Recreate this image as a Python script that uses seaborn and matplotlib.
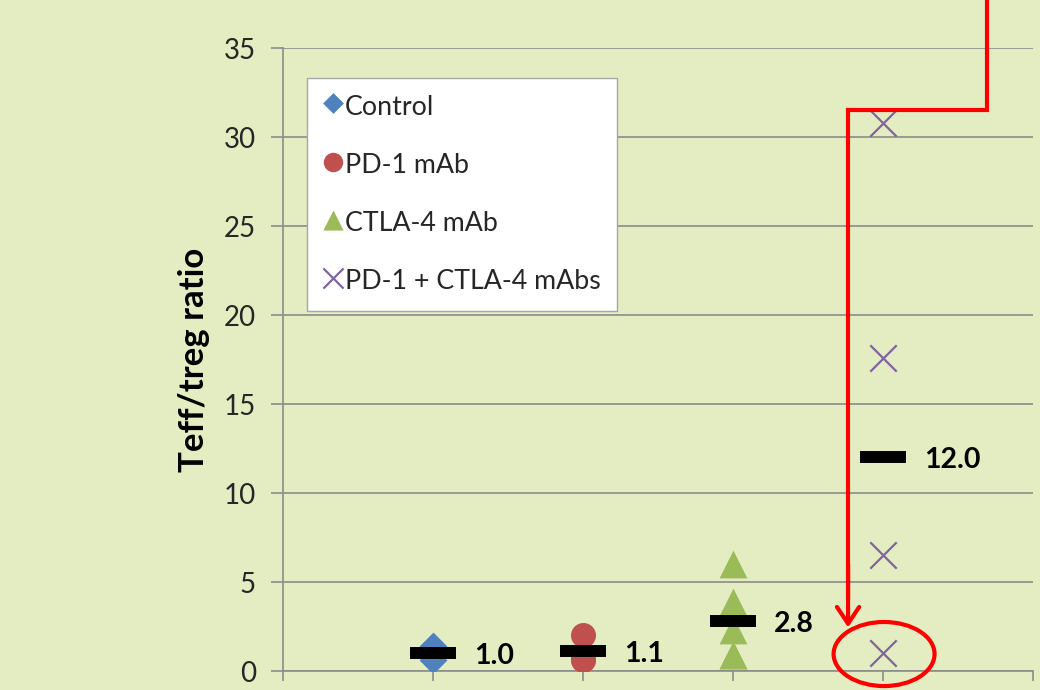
import numpy as np
import pandas as pd
import matplotlib
matplotlib.use("Agg")
import matplotlib.pyplot as plt
from matplotlib.patches import Ellipse
import seaborn as sns

# Treatment groups and individual Teff/Treg ratios per animal
groups = ["Control", "PD-1 mAb", "CTLA-4 mAb", "PD-1 + CTLA-4 mAbs"]
control = [1.4, 0.6]
pd1 = [2.0, 0.7, 0.6]
ctla4 = [6.0, 3.9, 2.3, 0.9, 0.9]
combo = [30.8, 17.6, 6.5, 1.0]
group_means = [1.0, 1.1, 2.8, 12.0]
yticks = [0, 5, 10, 15, 20, 25, 30, 35]

values = [control, pd1, ctla4, combo]
df = pd.DataFrame({
    "group": np.repeat(groups, [len(v) for v in values]),
    "ratio": np.concatenate(values),
})
pos_of = {g: i + 1 for i, g in enumerate(groups)}
df["pos"] = df["group"].map(pos_of)

sns.set_theme(style="white")
plt.rcParams["font.family"] = ["Lato", "DejaVu Sans"]

BG = "#E4EDC1"
GRID = "#8C8C8C"
fig = plt.figure(figsize=(10.4, 6.9), dpi=100, facecolor=BG)
ax = fig.add_axes([0.2721, 0.0275, 0.7212, 0.9029])
ax.set_facecolor(BG)

# marker, colour, scatter size (pt^2), legend size
styles = {
    "Control": ("D", "#4F81BD", 200, 112),
    "PD-1 mAb": ("o", "#C0504D", 324, 196),
    "CTLA-4 mAb": ("^", "#9BBB59", 400, 210),
    "PD-1 + CTLA-4 mAbs": ("x", "#8064A2", 361, 210),
}

for g in groups:
    sub = df[df["group"] == g]
    mk, col, s, _ = styles[g]
    lw = 1.6 if mk == "x" else 0
    sns.scatterplot(data=sub, x="pos", y="ratio", marker=mk, color=col,
                    s=s, linewidth=lw, label=g, ax=ax, zorder=3)

# group mean bars with value labels
positions = np.array([pos_of[g] for g in groups], dtype=float)
half = 0.155
ax.hlines(group_means, positions - half, positions + half, colors="black",
          linewidth=8.6, zorder=4)
for p, m in zip(positions, group_means):
    ax.annotate(f"{m:.1f}", xy=(p + half, m), xytext=(13, -2),
                textcoords="offset points", ha="left", va="center",
                fontsize=20.5, fontweight="bold", color="black")

ax.set_xlim(0, 5)
ax.set_ylim(0, 35)
ax.set_yticks(yticks)
ax.set_xticks([0, 1, 2, 3, 4, 5])
ax.set_xticklabels([])
ax.set_xlabel("")
ax.yaxis.grid(True, color=GRID, linewidth=1.2)
ax.xaxis.grid(False)
ax.set_axisbelow(True)
for side in ["top", "right"]:
    ax.spines[side].set_visible(False)
for side in ["left", "bottom"]:
    ax.spines[side].set_color(GRID)
    ax.spines[side].set_linewidth(1.2)
ax.tick_params(axis="y", direction="out", length=8.5, width=1.2, color=GRID,
               pad=11, labelsize=20, labelcolor="#262626", left=True)
ax.tick_params(axis="x", direction="out", length=7, width=1.2, color=GRID,
               bottom=True)

ax.set_ylabel("Teff/treg ratio", fontsize=25, fontweight="bold", color="black")
ax.yaxis.set_label_coords(-0.097, 0.5)

leg = ax.legend(loc="upper left", bbox_to_anchor=(0.032, 0.952),
                borderaxespad=0, fontsize=19.3, frameon=True, fancybox=False,
                edgecolor="#A6A6A6", facecolor="white", framealpha=1,
                handlelength=0.7, handletextpad=0.1, labelspacing=1.24,
                borderpad=0.62, scatteryoffsets=[0.6])
leg.get_frame().set_linewidth(1.0)
for h, g in zip(leg.legend_handles, groups):
    h.set_sizes([styles[g][3]])

# highlight the low responder in the combination group
ax.plot([4.691, 4.691, 3.767, 3.767], [38.5, 31.54, 31.54, 4.0], color="red",
        linewidth=3, clip_on=False, solid_joinstyle="miter", zorder=6)
ax.annotate("", xy=(3.767, 2.45), xytext=(3.767, 6.0),
            arrowprops=dict(arrowstyle="->,head_length=0.6,head_width=0.4",
                            color="red", lw=3, mutation_scale=20,
                            shrinkA=0, shrinkB=0), zorder=6)
ax.add_patch(Ellipse((4.007, 0.955), 0.673, 3.6, fill=False, edgecolor="red",
                     linewidth=3, clip_on=False, zorder=6))

fig.savefig("out.png", dpi=100, facecolor=BG)
